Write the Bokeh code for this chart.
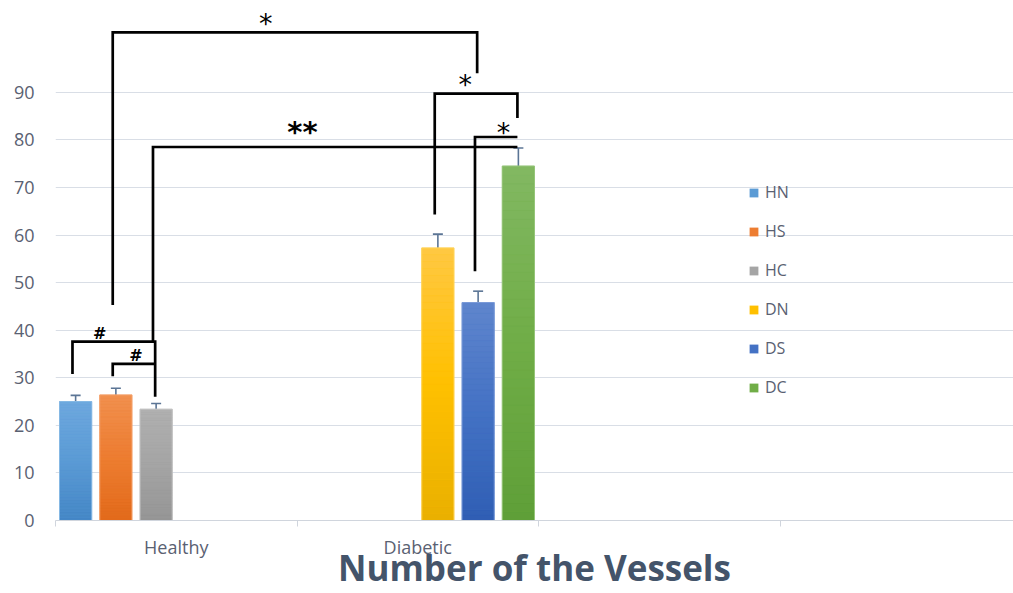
from bokeh.plotting import figure
from bokeh.models import (Range1d, FixedTicker, Legend, LegendItem, Whisker,
                          ColumnDataSource, TeeHead, CustomJSTickFormatter)
from bokeh.core.properties import value
from bokeh.embed import file_html
from bokeh.resources import INLINE

# ---------------- data ----------------
groups = ["Healthy", "Diabetic"]
axis_categories = 4                       # category slots on the axis (last two empty)
series = ["HN", "HS", "HC", "DN", "DS", "DC"]
series_group = ["Healthy", "Healthy", "Healthy", "Diabetic", "Diabetic", "Diabetic"]
means = [25.0, 26.4, 23.4, 57.3, 45.8, 74.5]
errors = [1.3, 1.4, 1.2, 2.9, 2.4, 3.8]
y_ticks = [0, 10, 20, 30, 40, 50, 60, 70, 80, 90]

# significance brackets
brk_from = ["HS", "DN", "DS", "HC", "HN", "HS"]
brk_to = ["DS", "DC", "DC", "DC", "HC", "HC"]
brk_level = [102.6, 89.7, 80.6, 78.5, 37.6, 32.9]
brk_from_end = [45.3, 64.3, 52.4, 37.6, 30.8, 30.3]
brk_to_end = [94.0, 84.6, 80.6, 78.5, 26.0, 32.9]
brk_label = ["*", "*", "*", "**", "#", "#"]

title_text = "Number of the Vessels"

# ---------------- styles ----------------
colors = ["#5B9BD5", "#ED7D31", "#A5A5A5", "#FFC000", "#4472C4", "#70AD47"]
top_colors = ["#6EA8DE", "#F1904F", "#B0B0B0", "#FFC843", "#5F85CD", "#82B862"]
bottom_colors = ["#4486C6", "#E26A1A", "#959595", "#E9B000", "#2F5EB4", "#5F9F38"]
outline = ["#86B8E4", "#F4A26C", "#C4C4C4", "#FFD45C", "#7B9BD8", "#96C57A"]
label_frac = [0.42, 0.37, 0.67, 0.41, 0.33, 0.55]
label_dy = [-9, -9, -5, -15.5, -8, -8]
label_style = {"*": ("27px", "normal"), "**": ("29px", "bold"), "#": ("16px", "bold")}
text_col = "#5a6172"
err_col = "#5b7595"
n_slices = 40

n = len(series)
bar_w = 0.8 / n


def slot_x(name):
    i = series.index(name)
    return groups.index(series_group[i]) + (i + 0.5) / n


def hex2rgb(h):
    h = h.lstrip("#")
    return [int(h[i:i + 2], 16) for i in (0, 2, 4)]


def lerp_col(c0, c1, t):
    a, b = hex2rgb(c0), hex2rgb(c1)
    return "#%02x%02x%02x" % tuple(int(round(a[j] + (b[j] - a[j]) * t)) for j in range(3))


def grad_col(i, t):
    # t: 0 at bottom, 1 at top
    if t < 0.5:
        return lerp_col(bottom_colors[i], colors[i], t / 0.5)
    return lerp_col(colors[i], top_colors[i], (t - 0.5) / 0.5)


xs = [slot_x(s) for s in series]

W, H = 1013, 593
left_b, bottom_b = 55, 72
frame_w = W - left_b
frame_h = H - bottom_b
cat_px = 241.5
x_end = frame_w / cat_px
y_end = frame_h / 4.767

p = figure(width=W, height=H, output_backend="svg", toolbar_location=None,
           x_range=Range1d(0, x_end), y_range=Range1d(0, y_end),
           min_border_left=left_b, min_border_right=0, min_border_top=0,
           min_border_bottom=bottom_b, outline_line_color=None)

# grid
p.xgrid.grid_line_color = None
p.ygrid.ticker = FixedTicker(ticks=y_ticks)
p.ygrid.grid_line_color = "#d9dee6"
p.ygrid.grid_line_width = 1

# y axis
p.yaxis.ticker = FixedTicker(ticks=y_ticks)
p.yaxis.axis_line_color = None
p.yaxis.major_tick_line_color = None
p.yaxis.minor_tick_line_color = None
p.yaxis.major_tick_out = 0
p.yaxis.major_label_standoff = 21
p.yaxis.major_label_text_font = "Open Sans"
p.yaxis.major_label_text_font_size = "18px"
p.yaxis.major_label_text_color = text_col

# x axis (category labels + chart title as axis label)
p.xaxis.ticker = FixedTicker(ticks=[g + 0.5 for g in range(len(groups))],
                             minor_ticks=list(range(axis_categories)))
p.xaxis.formatter = CustomJSTickFormatter(args=dict(labels=groups),
                                          code="return labels[Math.floor(tick)] || '';")
p.xaxis.axis_line_color = "#d0d5dd"
p.xaxis.major_tick_line_color = None
p.xaxis.major_tick_out = 0
p.xaxis.major_tick_in = 0
p.xaxis.minor_tick_line_color = "#d0d5dd"
p.xaxis.minor_tick_out = 6
p.xaxis.minor_tick_in = 0
p.xaxis.major_label_standoff = 8
p.xaxis.major_label_text_font = "Open Sans"
p.xaxis.major_label_text_font_size = "18px"
p.xaxis.major_label_text_color = text_col
p.xaxis.axis_label = title_text
p.xaxis.axis_label_standoff = -18
p.xaxis.axis_label_text_font = "Open Sans"
p.xaxis.axis_label_text_font_style = "bold"
p.xaxis.axis_label_text_font_size = "35px"
p.xaxis.axis_label_text_color = "#44546A"

# bars: solid base (also used by legend) + gradient slices + outline
src = ColumnDataSource(dict(x=xs, top=means, color=colors, outline=outline,
                            upper=[m + e for m, e in zip(means, errors)],
                            lower=[m - e for m, e in zip(means, errors)]))
bars = p.vbar(x="x", top="top", bottom=0, width=bar_w, fill_color="color",
              line_color=None, source=src)

sx, sb, st, sc = [], [], [], []
for i in range(n):
    for k in range(n_slices):
        sx.append(xs[i])
        sb.append(means[i] * k / n_slices)
        st.append(means[i] * (k + 1) / n_slices)
        sc.append(grad_col(i, (k + 0.5) / n_slices))
p.vbar(x=sx, bottom=sb, top=st, width=bar_w, fill_color=sc, line_color=sc, line_width=0.3)
p.vbar(x="x", top="top", bottom=0, width=bar_w, fill_color=None,
       line_color="outline", line_width=1, source=src)

# error bars
wh = Whisker(base="x", upper="upper", lower="lower", source=src,
             line_color=err_col, line_width=1.6,
             upper_head=TeeHead(size=10, line_color=err_col, line_width=1.6),
             lower_head=TeeHead(size=10, line_color=err_col, line_width=1.6))
p.add_layout(wh)

# brackets
nudge_from, nudge_to = -0.013, -0.004
bx, by = [], []
lx, ly, lt, lsize, lstyle = [], [], [], [], []
for k in range(len(brk_label)):
    x0 = slot_x(brk_from[k]) + nudge_from
    x1 = slot_x(brk_to[k]) + nudge_to
    bx.append([x0, x0, x1, x1])
    by.append([brk_from_end[k], brk_level[k], brk_level[k], brk_to_end[k]])
    lx.append(x0 + label_frac[k] * (x1 - x0))
    ly.append(brk_level[k])
    lt.append(brk_label[k])
    s, fs = label_style[brk_label[k]]
    lsize.append(s)
    lstyle.append(fs)

p.multi_line(xs=bx, ys=by, line_color="black", line_width=2.7, line_join="miter")
lsrc = ColumnDataSource(dict(x=lx, y=ly, t=lt, size=lsize, style=lstyle, off=label_dy))
p.text(x="x", y="y", text="t", source=lsrc, text_font=value("DejaVu Sans"),
       text_font_size="size", text_font_style="style", y_offset="off",
       text_align="center", text_baseline="alphabetic", text_color="black")

# legend
items = [LegendItem(label=s, renderers=[bars], index=i) for i, s in enumerate(series)]
legend = Legend(items=items, location=(693, 122), orientation="vertical",
                glyph_width=11, glyph_height=11, label_height=22, spacing=17,
                label_standoff=6, padding=0, margin=0,
                border_line_color=None, background_fill_alpha=0,
                label_text_font="Open Sans", label_text_font_size="16px",
                label_text_color=text_col)
p.add_layout(legend)

open("out.html", "w").write(file_html(p, INLINE))
